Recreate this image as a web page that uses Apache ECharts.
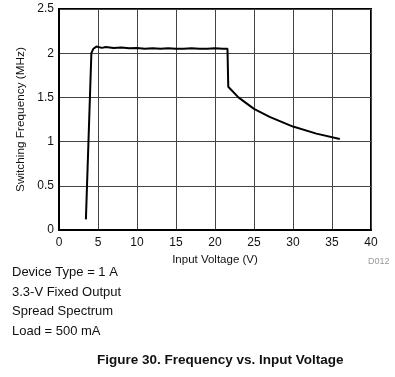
<!DOCTYPE html>
<html>
<head>
<meta charset="utf-8">
<script src="https://cdn.jsdelivr.net/npm/echarts@6/dist/echarts.min.js"></script>
<style>
html,body{margin:0;padding:0;background:#fff;}
#chart{width:395px;height:377px;}
</style>
</head>
<body>
<div id="chart"></div>
<script>
// input voltage (V) and switching frequency (MHz)
var voltage = [3.45, 4.15, 4.4, 4.8, 5.5, 6, 7, 8, 9, 10, 11, 12, 13, 14, 15, 16, 17, 18, 19, 20, 21, 21.6, 21.7, 23, 25, 27, 30, 33, 36];
var freq = [0.12, 2.0, 2.05, 2.075, 2.06, 2.07, 2.06, 2.065, 2.055, 2.06, 2.05, 2.055, 2.05, 2.055, 2.05, 2.05, 2.055, 2.05, 2.05, 2.055, 2.05, 2.05, 1.62, 1.5, 1.37, 1.28, 1.17, 1.09, 1.03];
var xTicks = [0, 5, 10, 15, 20, 25, 30, 35, 40];
var yTicks = [0, 0.5, 1, 1.5, 2, 2.5];
var notes = ['Device Type = 1 A', '3.3-V Fixed Output', 'Spread Spectrum', 'Load = 500 mA'];

var points = [];
for (var i = 0; i < voltage.length; i++) {
	points.push([voltage[i], freq[i]]);
}

var font = 'Liberation Sans, Arial, sans-serif';
var chart = echarts.init(document.getElementById('chart'));

var graphics = [];
for (var n = 0; n < notes.length; n++) {
	graphics.push({
		type: 'text', left: 12, top: 266 + n * 19.6,
		style: { text: notes[n], font: '13px ' + font, fill: '#111' }
	});
}
graphics.push({
	type: 'text', left: 368, top: 257,
	style: { text: 'D012', font: '9px ' + font, fill: '#999' }
});
graphics.push({
	type: 'text', left: 97, top: 353,
	style: { text: 'Figure 30. Frequency vs. Input Voltage', font: 'bold 13.5px ' + font, fill: '#111' }
});

var option = {
	animation: false,
	backgroundColor: '#fff',
	grid: { left: 59, right: 24, top: 9, bottom: 147, show: true, borderColor: '#000', borderWidth: 2 },
	xAxis: {
		type: 'value', min: 0, max: 40, interval: 5,
		name: 'Input Voltage (V)', nameLocation: 'middle', nameGap: 20,
		nameTextStyle: { fontFamily: font, fontSize: 11.5, color: '#111' },
		axisLine: { show: true, lineStyle: { color: '#000', width: 2 } },
		axisTick: { show: false },
		axisLabel: { fontFamily: font, fontSize: 12, color: '#111', margin: 7 },
		splitLine: { show: true, lineStyle: { color: '#444', width: 1 } }
	},
	yAxis: {
		type: 'value', min: 0, max: 2.5, interval: 0.5,
		name: 'Switching Frequency (MHz)', nameLocation: 'middle', nameGap: 24,
		nameTextStyle: { fontFamily: font, fontSize: 11.8, color: '#111' },
		axisLine: { show: true, lineStyle: { color: '#000', width: 2 } },
		axisTick: { show: false },
		axisLabel: { fontFamily: font, fontSize: 12, color: '#111', margin: 5 },
		splitLine: { show: true, lineStyle: { color: '#444', width: 1 } }
	},
	series: [{
		type: 'line',
		data: points,
		showSymbol: false,
		lineStyle: { color: '#000', width: 2 },
		z: 5
	}],
	graphic: graphics
};
chart.setOption(option);
</script>
</body>
</html>
